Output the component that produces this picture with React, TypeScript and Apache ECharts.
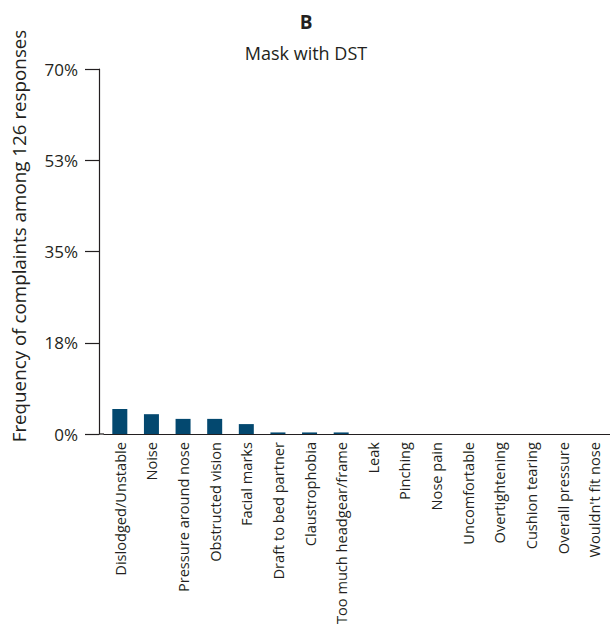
import React, { useEffect, useRef } from "react";
import * as echarts from "echarts";

const categories = [
  "Dislodged/Unstable",
  "Noise",
  "Pressure around nose",
  "Obstructed vision",
  "Facial marks",
  "Draft to bed partner",
  "Claustrophobia",
  "Too much headgear/frame",
  "Leak",
  "Pinching",
  "Nose pain",
  "Uncomfortable",
  "Overtightening",
  "Cushion tearing",
  "Overall pressure",
  "Wouldn't fit nose",
];

// Share of complaints (%) per category
const frequencies = [4.8, 3.8, 2.9, 2.9, 1.9, 0.3, 0.3, 0.3, 0, 0, 0, 0, 0, 0, 0, 0];

const yMin = 0;
const yMax = 70;
const yStep = 17.5;

const panelLabel = "B";
const panelTitle = "Mask with DST";
const yAxisTitle = "Frequency of complaints among 126 responses";

const FONT = "'Open Sans', 'Noto Sans', sans-serif";
const INK = "#231f20";
const BAR = "#03486f";

export default function App() {
  const ref = useRef<HTMLDivElement>(null);

  useEffect(() => {
    document.body.style.margin = "0";
    if (!ref.current) return;
    const chart = echarts.init(ref.current, undefined, { renderer: "svg" });
    chart.setOption({
      animation: false,
      backgroundColor: "#ffffff",
      textStyle: { fontFamily: FONT },
      title: [
        {
          text: panelLabel,
          left: 301,
          top: 7,
          textAlign: "center",
          textStyle: { fontFamily: FONT, fontSize: 19, fontWeight: "bold", color: INK },
        },
        {
          text: panelTitle,
          left: 301,
          top: 39,
          textAlign: "center",
          textStyle: { fontFamily: FONT, fontSize: 18, fontWeight: "normal", color: INK },
        },
      ],
      grid: {
        left: 104,
        right: 0,
        top: 69,
        bottom: 192,
        containLabel: false,
        outerBoundsMode: "none",
      },
      xAxis: {
        type: "category",
        data: categories,
        axisLine: { show: true, lineStyle: { color: INK, width: 1.2 } },
        axisTick: { show: false },
        axisLabel: {
          rotate: 90,
          interval: 0,
          margin: 8,
          fontFamily: FONT,
          fontSize: 14.6,
          color: INK,
        },
      },
      yAxis: {
        type: "value",
        min: yMin,
        max: yMax,
        interval: yStep,
        offset: 5,
        splitLine: { show: false },
        axisLine: { show: true, lineStyle: { color: INK, width: 1.2 } },
        axisTick: { show: true, length: 14, lineStyle: { color: INK, width: 1.2 } },
        axisLabel: {
          margin: 21,
          fontFamily: FONT,
          fontSize: 17,
          color: INK,
          formatter: (v: number) => `${Math.round(v)}%`,
        },
      },
      graphic: [
        {
          type: "line",
          shape: { x1: 99, y1: 434, x2: 104, y2: 434 },
          style: { stroke: INK, lineWidth: 1.2 },
        },
        {
          type: "text",
          x: 19,
          y: 236,
          rotation: Math.PI / 2,
          style: {
            text: yAxisTitle,
            fontFamily: FONT,
            fontSize: 18.8,
            fill: INK,
            align: "center",
            verticalAlign: "middle",
          },
        },
      ],
      series: [
        {
          type: "bar",
          data: frequencies,
          barWidth: 15,
          itemStyle: { color: BAR },
        },
      ],
    });
    return () => chart.dispose();
  }, []);

  return <div ref={ref} style={{ width: 610, height: 626 }} />;
}
